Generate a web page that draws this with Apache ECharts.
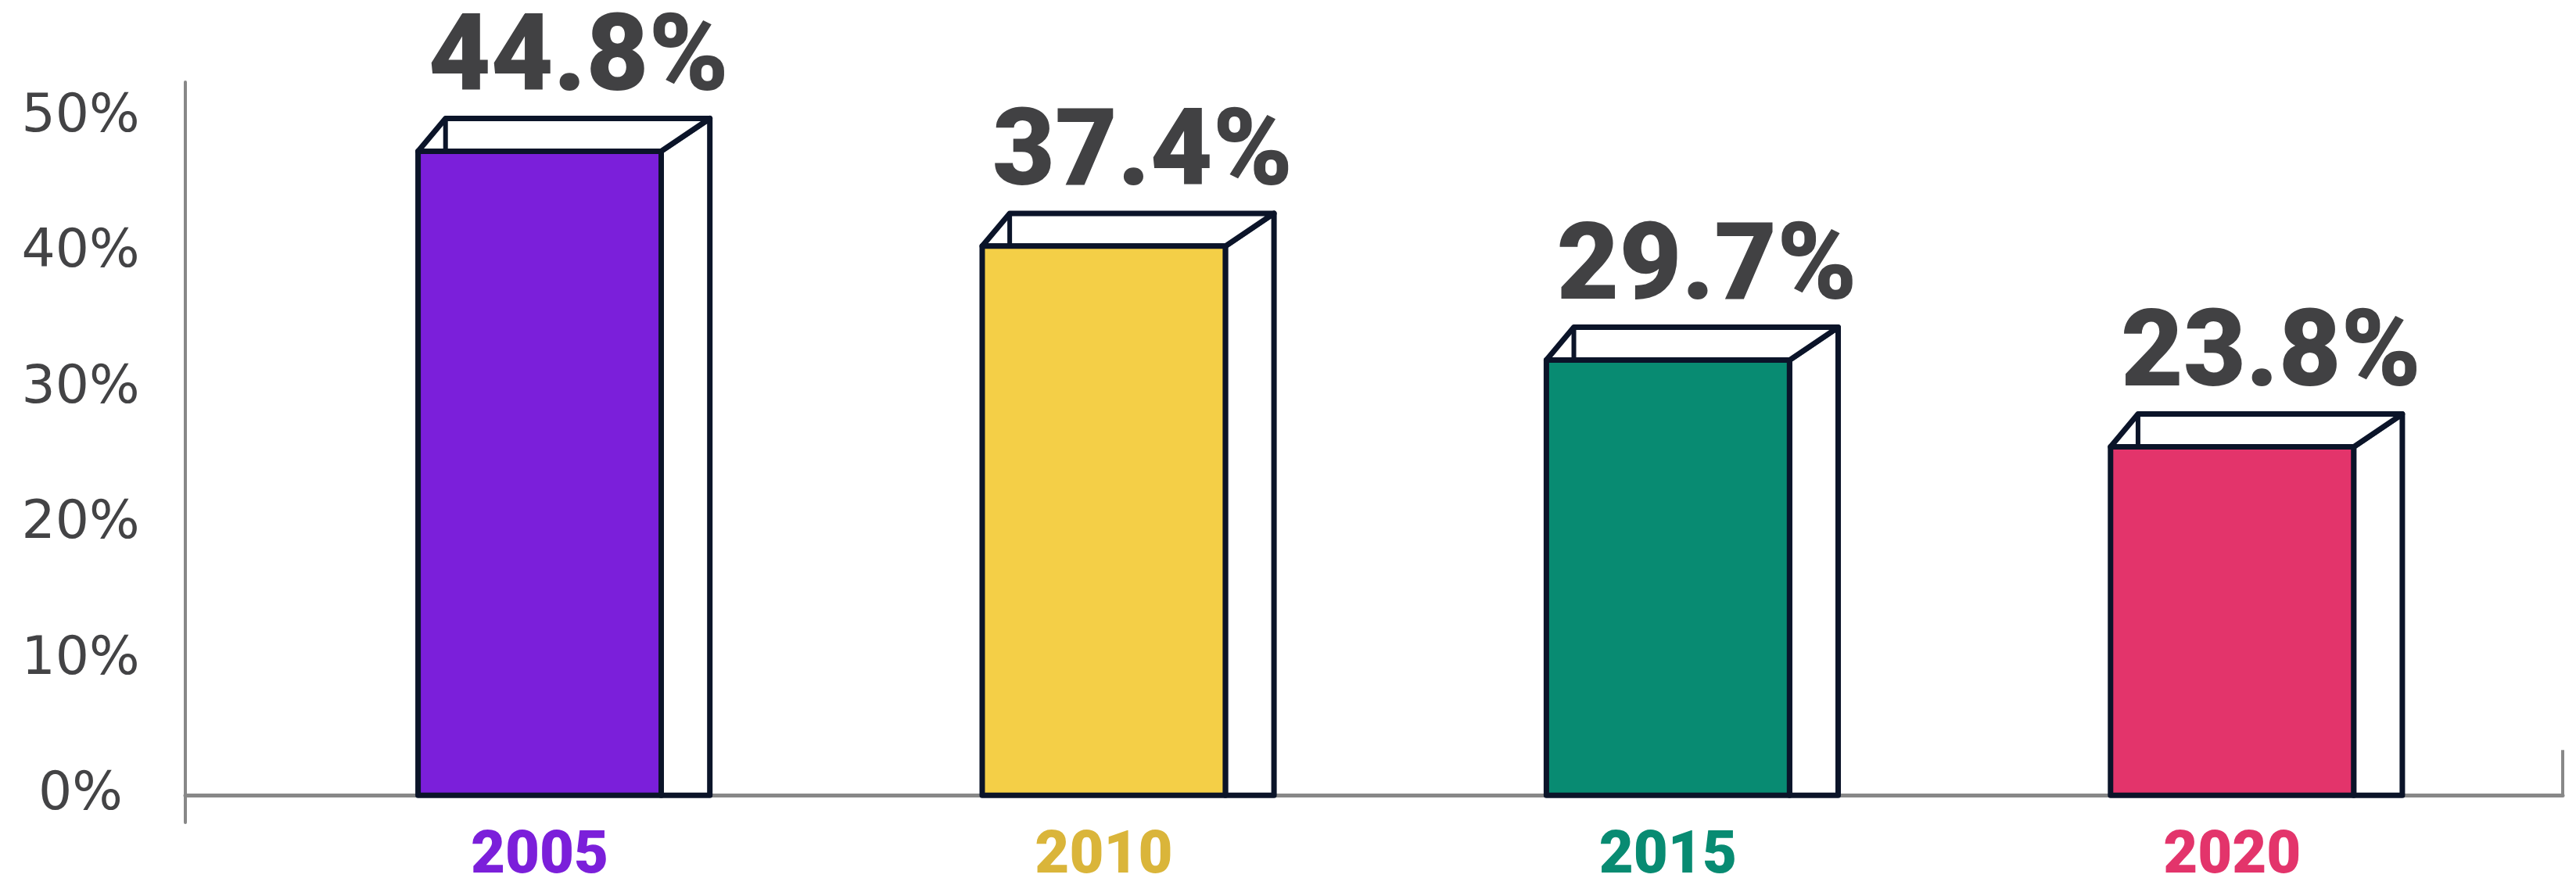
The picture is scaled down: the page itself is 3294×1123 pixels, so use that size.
<!DOCTYPE html>
<html><head><meta charset="utf-8">
<script src="https://cdn.jsdelivr.net/npm/echarts@6/dist/echarts.min.js"></script>
<style>html,body{margin:0;padding:0;background:#fff}#c{width:3294px;height:1123px}</style>
</head><body><div id="c"></div>
<script>
// ---- data ----
const years = ['2005', '2010', '2015', '2020'];
const shares = [44.8, 37.4, 29.7, 23.8];          // printed value labels
const barHeights = [47.5, 40.5, 32.1, 25.7];      // bar heights as read against the y axis
const yTickValues = [0, 10, 20, 30, 40, 50];
const faceColors = ['#7B1FDA', '#F4CF47', '#088B72', '#E3346B'];
const yearColors = ['#7B1FDA', '#DAB53A', '#088B72', '#E3346B'];

const OUTLINE = '#0B1429';
const AXIS = '#888888';

const chart = echarts.init(document.getElementById('c'), null, { renderer: 'canvas' });

const option = {
  backgroundColor: '#ffffff',
  animation: false,
  grid: { left: 237, right: 17, top: 105, bottom: 71, containLabel: false, outerBoundsMode: 'none' },
  xAxis: {
    type: 'value',
    min: -0.628,
    max: 3.586,
    splitLine: { show: false },
    axisLine: { show: true, onZero: true, lineStyle: { color: AXIS, width: 5 } },
    axisTick: { show: true, customValues: [3.586], inside: true, length: 58, lineStyle: { color: AXIS, width: 4 } },
    axisLabel: { show: false }
  },
  yAxis: {
    type: 'value',
    min: -2,
    max: 52.6,
    splitLine: { show: false },
    axisLine: { show: true, onZero: false, lineStyle: { color: AXIS, width: 4 } },
    axisTick: { show: false },
    axisLabel: {
      show: true,
      customValues: yTickValues,
      formatter: v => v + '%',
      align: 'center',
      verticalAlign: 'middle',
      margin: 134,
      padding: [0, 0, 30, 0],
      color: '#434345',
      fontFamily: 'DejaVu Sans',
      fontSize: 68
    }
  },
  series: [{
    type: 'custom',
    clip: false,
    data: years.map((y, i) => [i, barHeights[i]]),
    encode: { x: 0, y: 1 },
    renderItem: function (params, api) {
      const i = api.value(0);
      const h = api.value(1);
      const base = api.coord([i, 0]);
      const top = api.coord([i, h]);
      const fw = api.size([0.431, 0])[0];
      const sw = fw * 0.2, bl = fw * 0.113, dy = fw * 0.135;
      const xL = base[0] - fw / 2, xR = base[0] + fw / 2, yB = base[1], yT = top[1];
      const stroke = { stroke: OUTLINE, lineWidth: 7, lineJoin: 'round' };
      return {
        type: 'group',
        children: [
          { type: 'polygon', shape: { points: [[xR, yT], [xR + sw, yT - dy], [xR + sw, yB], [xR, yB]] },
            style: Object.assign({ fill: '#ffffff' }, stroke) },
          { type: 'polygon', shape: { points: [[xL, yT], [xL + bl, yT - dy], [xR + sw, yT - dy], [xR, yT]] },
            style: Object.assign({ fill: '#ffffff' }, stroke) },
          { type: 'line', shape: { x1: xL + bl, y1: yT - dy, x2: xL + bl, y2: yT },
            style: { stroke: OUTLINE, lineWidth: 6 } },
          { type: 'rect', shape: { x: xL, y: yT, width: fw, height: yB - yT },
            style: Object.assign({ fill: faceColors[i] }, stroke) },
          { type: 'text', x: base[0] + fw * 0.16, y: yT - dy - 71,
            style: { text: shares[i].toFixed(1) + '%', fill: '#414143',
              font: '900 138px Roboto', textAlign: 'center', textVerticalAlign: 'middle' } },
          { type: 'text', x: base[0], y: yB + 80,
            style: { text: years[i], fill: yearColors[i],
              font: '900 76px Roboto', textAlign: 'center', textVerticalAlign: 'middle' } }
        ]
      };
    }
  }]
};
chart.setOption(option);
</script>
</body></html>
